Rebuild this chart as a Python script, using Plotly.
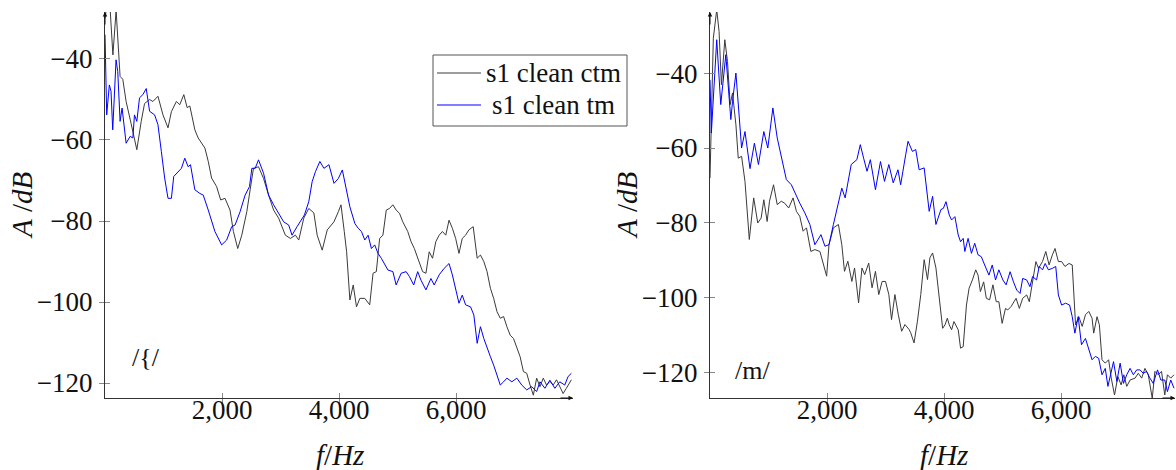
import plotly.graph_objects as go

# ---------------- /{/ panel ----------------
left_ctm_f = [0, 40, 85, 135, 190, 258, 304, 361, 447, 544, 619, 676, 762, 819, 905, 991, 1077, 1135,
              1220, 1278, 1347, 1404, 1450, 1536, 1593, 1708, 1765, 1822, 1908, 1977, 2051, 2137, 2195,
              2269, 2338, 2424, 2481, 2538, 2624, 2710, 2796, 2882, 2968, 3083, 3169, 3255, 3312, 3398,
              3484, 3570, 3627, 3713, 3799, 3914, 3989, 4034, 4090, 4130, 4186, 4243, 4299, 4356, 4441,
              4525, 4582, 4638, 4695, 4751, 4808, 4864, 4921, 4977, 5034, 5090, 5175, 5232, 5288, 5373,
              5429, 5486, 5542, 5599, 5655, 5712, 5768, 5825, 5881, 5938, 5994, 6051, 6107, 6164, 6220,
              6294, 6362, 6418, 6475, 6531, 6588, 6644, 6701, 6757, 6814, 6870, 6927, 6983, 7040, 7096,
              7153, 7209, 7266, 7322, 7379, 7435, 7492, 7548, 7605, 7662, 7718, 7774, 7831, 7887, 7972]
left_ctm_db = [-30, -26, -27, -39, -28, -44.3, -45, -50.5, -56, -62.4, -55.4, -51, -50, -50.5, -49.2,
               -53.8, -57, -53, -50.5, -51.3, -48.8, -52, -51.6, -57.5, -59.5, -62, -65.3, -69.4, -71.5,
               -74.8, -74.4, -77.3, -82.6, -86.8, -83.5, -77.7, -72.3, -67, -66.6, -69.5, -73.6, -77.3,
               -79.3, -83.5, -84.3, -83.5, -84.7, -79.3, -76.9, -78, -83.5, -87.2, -82.2, -80.2, -77.7,
               -76, -82.6, -87.6, -99.5, -95.8, -101.2, -99.1, -99.1, -100.7, -92.9, -92.5, -84.3, -83.5,
               -77.3, -76.9, -76, -77.3, -78.1, -80.2, -82.6, -85.1, -86.8, -90, -92.5, -92.9, -87.6,
               -89.2, -85.1, -83.5, -82.6, -83.5, -79.8, -81.8, -84.3, -88, -84.3, -83.5, -82.2, -81.4,
               -89.2, -88.4, -90, -92.5, -96.6, -99.1, -102.4, -104, -103.6, -106.1, -108.2, -109, -111.4,
               -113.5, -117.2, -117.6, -120.5, -123, -118.8, -120.9, -118.8, -120.5, -119.6, -120.5,
               -119.2, -120.9, -122.6, -121.3, -119.2]

left_tm_f = [0, 29, 74, 103, 132, 189, 218, 258, 292, 361, 430, 476, 504, 544, 590, 647, 705, 762, 848,
             905, 963, 1020, 1077, 1135, 1175, 1249, 1306, 1364, 1421, 1461, 1536, 1622, 1679, 1765, 1879,
             1994, 2080, 2166, 2223, 2309, 2395, 2470, 2510, 2567, 2624, 2710, 2796, 2882, 2968, 3054,
             3140, 3197, 3283, 3341, 3409, 3484, 3541, 3598, 3673, 3742, 3828, 3914, 3989, 4057, 4130,
             4186, 4271, 4328, 4384, 4441, 4497, 4554, 4610, 4667, 4723, 4780, 4836, 4921, 4977, 5062,
             5147, 5203, 5277, 5345, 5401, 5486, 5571, 5627, 5712, 5797, 5881, 5938, 5994, 6051, 6107,
             6164, 6249, 6305, 6362, 6418, 6475, 6531, 6588, 6644, 6701, 6757, 6814, 6870, 6955, 7040,
             7124, 7209, 7294, 7379, 7435, 7520, 7605, 7690, 7774, 7859, 7916, 7972]
left_tm_db = [-34, -53.8, -46.4, -48, -57.5, -40.2, -43.1, -55.4, -52.1, -60.8, -59.1, -59.5, -53.8,
              -55.4, -49.6, -48.8, -47.3, -52.9, -53.8, -56.2, -62.8, -69.4, -74.4, -74.4, -69, -67.8,
              -67, -64.5, -66.6, -66.1, -72.3, -73.2, -73.6, -77.3, -82.6, -85.9, -84.7, -81.4, -81,
              -77.7, -73.6, -71.5, -67, -67, -64.9, -68.2, -73.6, -76, -78.1, -80.2, -81, -83.5, -81.4,
              -80.2, -78.5, -75.2, -70.3, -67.8, -65.3, -67, -66.1, -70.7, -69.5, -67.4, -72.8, -76.5,
              -80.6, -81.8, -82.6, -84.7, -83.5, -86.8, -85.9, -88, -89.2, -90.5, -92.1, -92.5, -95.8,
              -92.9, -92.5, -93.7, -95.8, -92.5, -94.6, -97, -94.2, -95.8, -93.3, -91.7, -90.5, -93.3,
              -96.6, -100.3, -98.3, -100.7, -101.2, -103.2, -110.2, -106.1, -109, -111.4, -113.5,
              -115.6, -118, -120.5, -119.7, -118.8, -119.7, -118.8, -120.5, -121.7, -120.9, -122.1,
              -119.7, -121.3, -119.3, -121.3, -119.7, -120.5, -118.4, -117.6]

# ---------------- /m/ panel ----------------
right_ctm_f = [0, 57, 115, 155, 195, 253, 299, 345, 385, 443, 483, 540, 598, 672, 747, 816, 874, 920,
               977, 1017, 1086, 1149, 1218, 1276, 1345, 1420, 1477, 1534, 1592, 1649, 1724, 1793, 1879,
               1937, 1994, 2034, 2109, 2195, 2253, 2299, 2356, 2425, 2471, 2540, 2598, 2644, 2713, 2770,
               2828, 2885, 2942, 3000, 3057, 3103, 3161, 3218, 3276, 3333, 3402, 3431, 3488, 3546, 3603,
               3661, 3718, 3759, 3805, 3862, 3920, 3977, 4017, 4057, 4090, 4130, 4170, 4243, 4283, 4328,
               4384, 4429, 4486, 4542, 4582, 4622, 4678, 4723, 4780, 4836, 4893, 4938, 4994, 5051, 5090,
               5147, 5232, 5288, 5345, 5413, 5458, 5514, 5571, 5616, 5684, 5740, 5797, 5853, 5898, 5955,
               6011, 6068, 6136, 6192, 6249, 6305, 6362, 6418, 6475, 6531, 6559, 6616, 6656, 6701, 6757,
               6814, 6859, 6915, 6972, 7028, 7074, 7124, 7181, 7266, 7322, 7379, 7435, 7492, 7560, 7605,
               7662, 7718, 7774, 7819, 7876, 7932]
right_ctm_db = [-68, -30.7, -23.1, -28.9, -43.1, -31.1, -36.9, -48.4, -45.3, -53.8, -62.7, -62.2, -68.9,
                -84.4, -73.3, -80, -78.7, -73.8, -79.6, -74.2, -69.8, -75.1, -74.2, -74.7, -76, -73.3,
                -76.9, -78.2, -82.2, -81.3, -87.6, -87.1, -87.6, -90.7, -94.2, -85.8, -81.3, -80.4, -85.8,
                -92.9, -90.2, -95.6, -92, -101.3, -92, -93.8, -90.7, -97.3, -92.9, -99.1, -95.6, -95.6,
                -99.1, -105.8, -99.1, -104.4, -108.9, -107.1, -108.4, -109.3, -112, -106.2, -99.1, -89.8,
                -95.1, -89.3, -88, -92, -100, -108.1, -107.2, -105.4, -107.2, -108.5, -106.3, -108.5,
                -113.4, -113, -101.9, -97.4, -95.2, -92.5, -93.9, -98.3, -95.7, -100.1, -100.5, -96.5,
                -101, -101, -106.8, -102.8, -103.2, -102.3, -100.1, -102.8, -100.1, -99.2, -101, -95.6,
                -90.3, -92.1, -90.3, -87.6, -91.2, -88.5, -86.8, -90.3, -90.3, -91.6, -90.8, -91.2,
                -107.2, -105, -107.6, -104.5, -103.6, -105.4, -109.4, -105, -107.2, -116.5, -117.4,
                -116.5, -121.4, -125.9, -121, -123.2, -120.5, -123.6, -121.9, -121.4, -120.1, -121.4,
                -118.8, -120.5, -126.8, -119.6, -120.5, -119.6, -125.9, -120.5, -121.4, -120.5]

right_tm_f = [0, 23, 115, 184, 270, 356, 385, 443, 540, 598, 684, 759, 828, 920, 988, 1075, 1149, 1247,
              1305, 1391, 1460, 1534, 1621, 1707, 1793, 1897, 1965, 2034, 2109, 2195, 2253, 2310, 2414,
              2511, 2569, 2626, 2684, 2741, 2828, 2914, 2983, 3057, 3132, 3213, 3259, 3345, 3385, 3460,
              3517, 3575, 3661, 3747, 3805, 3862, 3948, 3989, 4034, 4090, 4130, 4186, 4243, 4283, 4328,
              4356, 4412, 4469, 4525, 4582, 4638, 4695, 4768, 4825, 4881, 4938, 5006, 5062, 5130, 5187,
              5243, 5300, 5345, 5413, 5469, 5514, 5582, 5627, 5684, 5729, 5785, 5853, 5910, 5955, 6011,
              6079, 6147, 6192, 6237, 6294, 6350, 6418, 6475, 6531, 6588, 6644, 6701, 6757, 6802, 6859,
              6898, 6955, 7011, 7068, 7124, 7181, 7237, 7294, 7350, 7407, 7463, 7520, 7577, 7650, 7706,
              7774, 7819, 7876, 7932]
right_tm_db = [-41.8, -56, -31.1, -48.4, -35.1, -52.4, -47.6, -40, -60, -55.6, -65.5, -58.7, -64.4, -55.6,
               -60, -49.3, -57.3, -64.9, -68.4, -69.8, -72.4, -74.7, -77.3, -80.4, -85.8, -83.1, -86.2,
               -85.8, -80.4, -74.2, -70.7, -73.3, -64.4, -63.1, -59.1, -62.7, -66.2, -63.1, -71.1, -63.6,
               -68.9, -64.4, -69.3, -65.8, -69.8, -61.8, -58.2, -60.9, -60.4, -65.8, -65.3, -76.9, -72.9,
               -80.4, -76.4, -76.1, -74.3, -77.9, -79.2, -78.3, -83.2, -85, -84.1, -87.6, -84.1, -88.1,
               -85.4, -88.5, -89, -91.2, -93.9, -91.2, -95.2, -92.5, -95.2, -96.5, -93, -95.7, -97.9,
               -98.8, -94.8, -95.2, -97, -94.3, -95.2, -91.6, -92.5, -90.8, -92.5, -92.1, -91.6, -99.2,
               -101.9, -101.4, -101.9, -105, -109.4, -105, -112.5, -110.8, -113.4, -116.5, -115.6, -116.1,
               -120.5, -118.8, -123.6, -119.2, -117, -122.3, -117.4, -122.8, -120.5, -118.8, -120.5,
               -119.2, -119.2, -120.1, -119.6, -121.4, -122.8, -119.2, -121.9, -121.9, -125, -121.9,
               -124.1]

series_names = ["s1 clean ctm", "s1 clean tm"]
panel_labels = ["/{/", "/m/"]
x_ticks = [2000, 4000, 6000]
y_ticks = [-40, -60, -80, -100, -120]

FONT = "Liberation Serif"
CTM_COLOR = "#3a3a3a"
TM_COLOR = "#0000ff"
W, H = 1176, 470


def px(x):
    return x / W


def py(y):
    return 1 - y / H


fig = go.Figure()

fig.add_trace(go.Scatter(x=left_ctm_f, y=left_ctm_db, mode="lines", name=series_names[0],
                         line=dict(color=CTM_COLOR, width=1), xaxis="x", yaxis="y"))
fig.add_trace(go.Scatter(x=left_tm_f, y=left_tm_db, mode="lines", name=series_names[1],
                         line=dict(color=TM_COLOR, width=1), xaxis="x", yaxis="y"))
fig.add_trace(go.Scatter(x=right_ctm_f, y=right_ctm_db, mode="lines", name=series_names[0],
                         line=dict(color=CTM_COLOR, width=1), xaxis="x2", yaxis="y2"))
fig.add_trace(go.Scatter(x=right_tm_f, y=right_tm_db, mode="lines", name=series_names[1],
                         line=dict(color=TM_COLOR, width=1), xaxis="x2", yaxis="y2"))
# empty traces so the overlay axes (inner tick halves) get drawn
fig.add_trace(go.Scatter(x=[], y=[], xaxis="x3", yaxis="y3", hoverinfo="skip"))
fig.add_trace(go.Scatter(x=[], y=[], xaxis="x4", yaxis="y4", hoverinfo="skip"))

y_dom = [py(398), py(12)]
xd1 = [px(105), px(573)]
xd2 = [px(710), px(1175)]
x1_range = [0, 8000]
x2_range = [0, 465 / 0.0585]
y1_range = [-123.7, -28.4]
y2_range = [-126.7, -23.7]

tickfont = dict(family=FONT, size=27, color="#111")


def xax(domain, rng, anchor):
    return dict(domain=domain, range=rng, anchor=anchor, showgrid=False, zeroline=False,
                showline=True, linecolor="#333", linewidth=1, ticks="outside", ticklen=5,
                tickcolor="#888", tickwidth=1, tickmode="array", tickvals=x_ticks,
                tickformat=",d", tickfont=tickfont, ticklabelstandoff=-17, fixedrange=True)


def yax(rng, anchor):
    return dict(domain=y_dom, range=rng, anchor=anchor, showgrid=False, zeroline=False,
                showline=True, linecolor="#333", linewidth=1, ticks="outside", ticklen=5,
                tickcolor="#888", tickwidth=1, tickmode="array", tickvals=y_ticks,
                tickfont=tickfont, ticklabelstandoff=1, fixedrange=True)


def overlay_x(base, rng, anchor):
    return dict(overlaying=base, range=rng, anchor=anchor, showgrid=False, zeroline=False,
                showline=False, ticks="inside", ticklen=5, tickcolor="#888", tickwidth=1,
                tickmode="array", tickvals=x_ticks, showticklabels=False, fixedrange=True)


def overlay_y(base, rng, anchor):
    return dict(overlaying=base, range=rng, anchor=anchor, showgrid=False, zeroline=False,
                showline=False, ticks="inside", ticklen=5, tickcolor="#888", tickwidth=1,
                tickmode="array", tickvals=y_ticks, showticklabels=False, fixedrange=True)


annotations = []
shapes = []
# axis arrows
for xr, yr in (("x domain", "y domain"), ("x2 domain", "y2 domain")):
    annotations.append(dict(xref=xr, yref=yr, x=1, y=0, ax=-14, ay=0, axref="pixel", ayref="pixel",
                            showarrow=True, arrowhead=2, arrowsize=0.9, arrowwidth=1,
                            arrowcolor="#111", text=""))
    annotations.append(dict(xref=xr, yref=yr, x=0, y=1, ax=0, ay=14, axref="pixel", ayref="pixel",
                            showarrow=True, arrowhead=2, arrowsize=0.9, arrowwidth=1,
                            arrowcolor="#111", text=""))

title_font = dict(family=FONT, size=29, color="#111")
# axis titles
for cx in (22, 627):
    annotations.append(dict(xref="paper", yref="paper", x=px(cx), y=py(205), text="<i>A</i> /<i>dB</i>",
                            textangle=-90, showarrow=False, font=title_font,
                            xanchor="center", yanchor="middle"))
for cx in (340, 944):
    annotations.append(dict(xref="paper", yref="paper", x=px(cx), y=py(455), text="<i>f</i>/<i>Hz</i>",
                            showarrow=False, font=title_font, xanchor="center", yanchor="middle"))
# panel labels
annotations.append(dict(xref="paper", yref="paper", x=px(146), y=py(357), text=panel_labels[0],
                        showarrow=False, font=dict(family=FONT, size=26, color="#111"),
                        xanchor="center", yanchor="middle"))
annotations.append(dict(xref="paper", yref="paper", x=px(752), y=py(370), text=panel_labels[1],
                        showarrow=False, font=dict(family=FONT, size=26, color="#111"),
                        xanchor="center", yanchor="middle"))

# legend box (drawn by hand for a compact pgfplots-style layout)
shapes.append(dict(type="rect", xref="paper", yref="paper", x0=px(433), x1=px(627), y0=py(126), y1=py(55),
                   line=dict(color="#555", width=1), fillcolor="white", layer="above"))
for name, color, ry in ((series_names[0], CTM_COLOR, 73), (series_names[1], TM_COLOR, 105)):
    shapes.append(dict(type="line", xref="paper", yref="paper", x0=px(437), x1=px(481), y0=py(ry), y1=py(ry),
                       line=dict(color=color, width=1), layer="above"))
    annotations.append(dict(xref="paper", yref="paper", x=px(553), y=py(ry), text=name, showarrow=False,
                            font=dict(family=FONT, size=27, color="#111"), xanchor="center", yanchor="middle"))

fig.update_layout(
    width=W, height=H, margin=dict(l=0, r=0, t=0, b=0),
    paper_bgcolor="white", plot_bgcolor="white",
    font=dict(family=FONT),
    xaxis=xax(xd1, x1_range, "y"), yaxis=yax(y1_range, "x"),
    xaxis2=xax(xd2, x2_range, "y2"), yaxis2=yax(y2_range, "x2"),
    xaxis3=overlay_x("x", x1_range, "y3"), yaxis3=overlay_y("y", y1_range, "x3"),
    xaxis4=overlay_x("x2", x2_range, "y4"), yaxis4=overlay_y("y2", y2_range, "x4"),
    showlegend=False,
    annotations=annotations,
    shapes=shapes,
    hovermode=False,
)

fig.write_html("out.html", config={"displayModeBar": False, "staticPlot": True})
